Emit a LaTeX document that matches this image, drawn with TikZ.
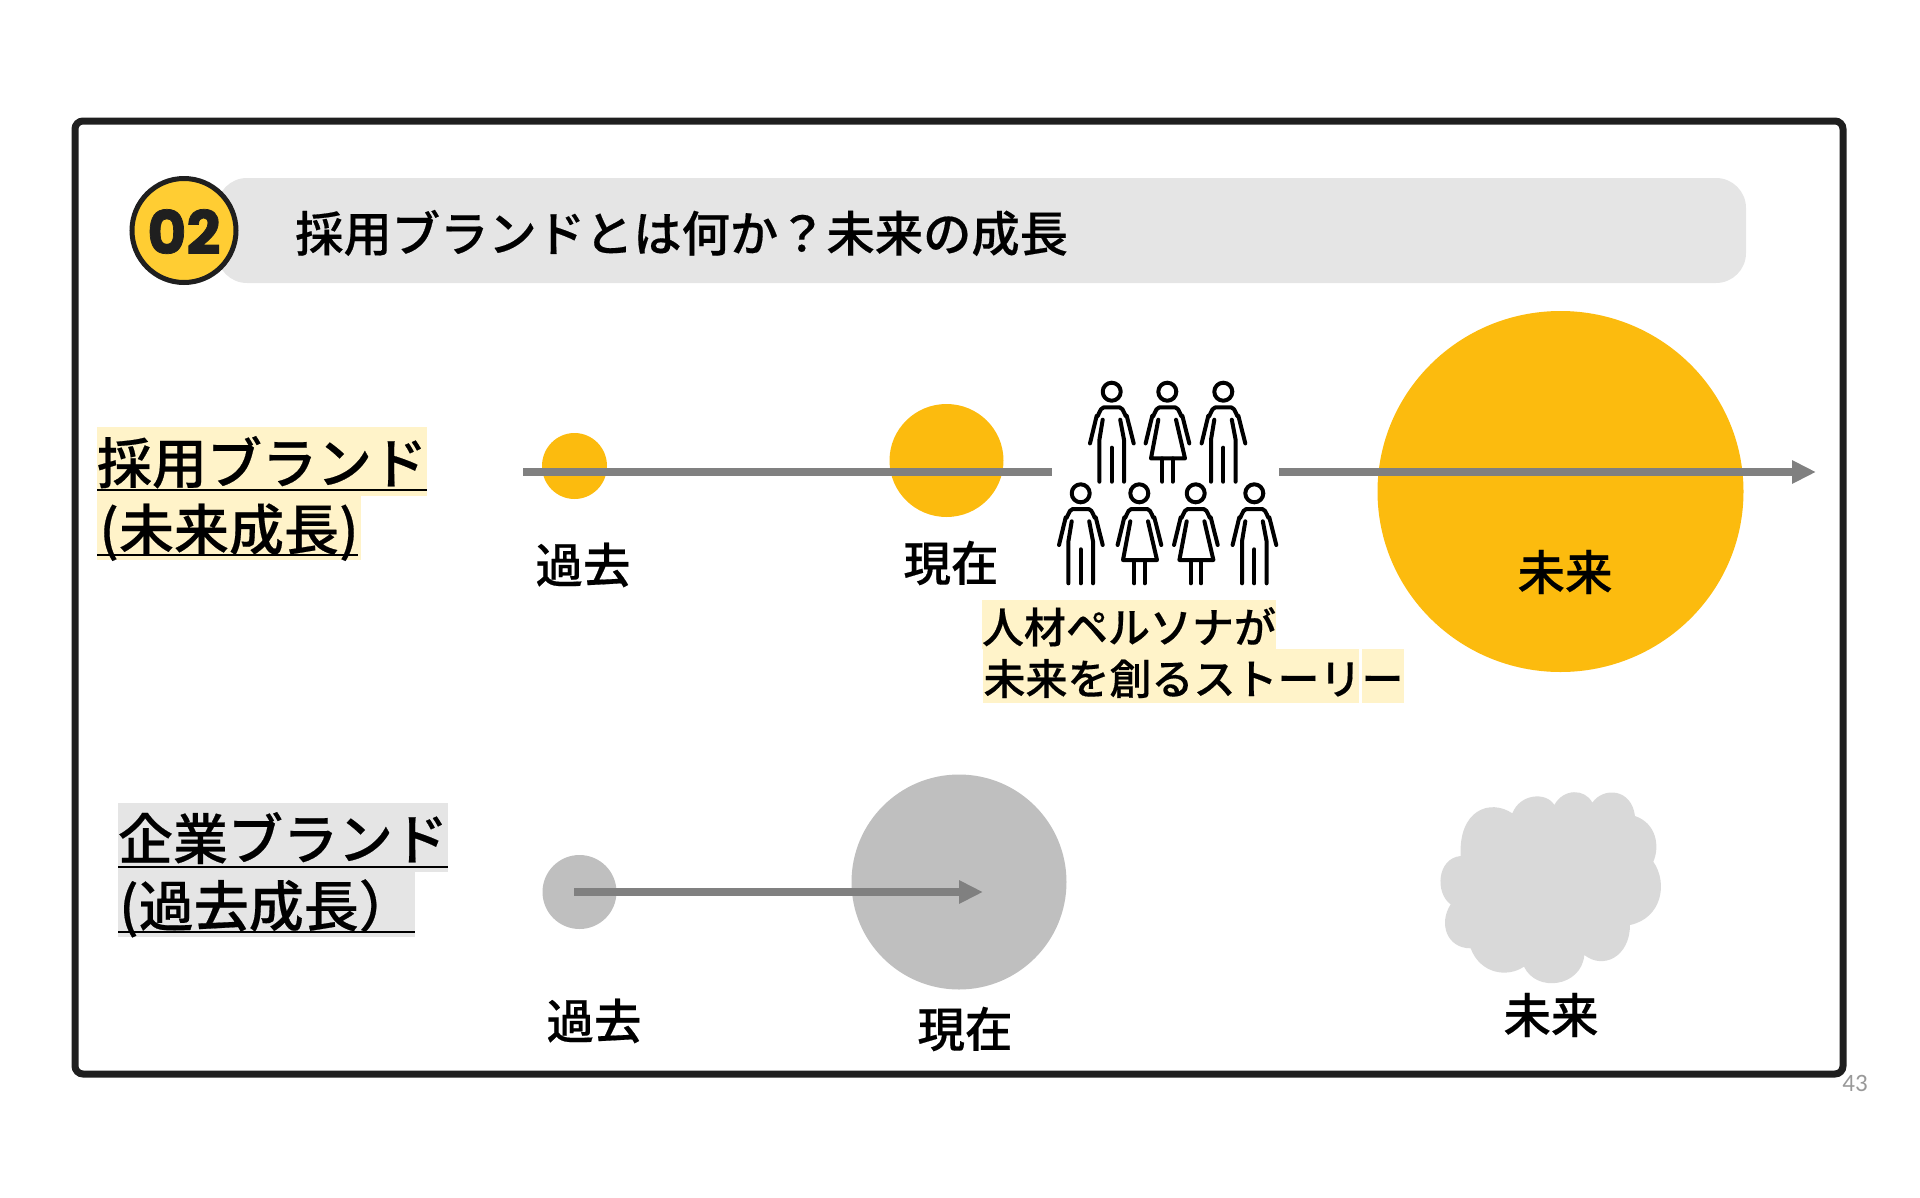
\documentclass[tikz,border=0pt]{standalone}
\usepackage{fontspec}
\setmainfont[FakeBold=0.35]{Noto Sans CJK JP Medium}
\newfontfamily\badgefont[BoldFeatures={FakeBold=1.2}]{Poppins}
\newfontfamily\pagefont{Carlito}
\usetikzlibrary{arrows.meta,positioning,shapes.geometric}
\definecolor{amber}{HTML}{FCBB0E}
\definecolor{badge}{HTML}{FFCD33}
\definecolor{pale}{HTML}{FFF3C9}
\tikzset{
  frame/.style={draw=black!88,line width=7pt,rounded corners=8pt},
  titlebar/.style={fill=black!10,rounded corners=30pt},
  badge-o/.style={draw=black!88,fill=badge,circle,line width=5pt,minimum size=104pt,inner sep=0pt,text height=47pt,text depth=0pt,font=\badgefont\bfseries\fontsize{60}{60}\selectfont,text=black!88},
  title-t/.style={inner sep=0pt,anchor=west,font=\fontsize{48.3}{56}\selectfont},
  band-y/.style={fill=pale,inner sep=0pt,text height=44pt,text depth=0pt,font=\fontsize{55}{64}\selectfont},
  band-g/.style={fill=black!10,inner sep=0pt,text height=44pt,text depth=0pt,font=\fontsize{55}{64}\selectfont},
  story/.style={fill=pale,inner sep=0pt,text height=37pt,text depth=0pt,font=\fontsize{42}{50}\selectfont},
  era/.style={inner sep=0pt,font=\fontsize{47.5}{56}\selectfont},
  dot-y/.style={fill=amber,ellipse,inner sep=0pt},
  dot-g/.style={fill=black!25,ellipse,inner sep=0pt},
  flow/.style={draw=black!50,line width=8pt},
  flowhead/.style={flow,-{Triangle[length=24pt,width=22pt]}},
  uline/.style={draw=black,line width=2pt},
  limb/.style={draw=black,line width=4pt,line cap=round,line join=round},
  man/.pic={
    \draw[limb] (0,0) circle (9);
    \draw[limb] (-21.7,51.7) -- (-15,24) to[out=-75,in=180] (-8,15.7) -- (8,15.7) to[out=0,in=-105] (15,24) -- (22,51.7);
    \draw[limb] (-9,28) -- (-12.3,48) -- (-12.3,90);
    \draw[limb] (8.5,28) -- (12.3,48) -- (12.3,90);
    \draw[limb] (0,56) -- (0,90);
  },
  woman/.pic={
    \draw[limb] (0,0) circle (9);
    \draw[limb] (-21.7,51.7) -- (-15,24) to[out=-75,in=180] (-8,15.7) -- (8,15.7) to[out=0,in=-105] (15,24) -- (22,51.7);
    \draw[limb] (-9,28) -- (-16.3,66.7) -- (17.7,66.7) -- (8.7,28);
    \draw[limb] (-5,66.7) -- (-5,90);
    \draw[limb] (5.3,66.7) -- (5.3,90);
  },
}
\begin{document}
\begin{tikzpicture}[x=1pt,y=-1pt]
  \useasboundingbox (0,0) rectangle (1920,1197);

  % heading
  \draw[frame] (75,121) rectangle (1843,1074);
  \fill[titlebar] (217,178) rectangle (1746,283);
  \node[badge-o] (num) at (184,230.5) {02};
  \node[title-t] (title) at (295,233) {採用ブランドとは何か？未来の成長};
  \node[text=black!40,inner sep=0pt,font=\pagefont\fontsize{25}{25}\selectfont] (page) at (1855,1083) {43};

  % upper row: amber circles
  \node[dot-y,minimum width=65pt,minimum height=66pt] (now-a) at (574.5,466) {};
  \node[dot-y,minimum width=114pt,minimum height=113pt] (now-b) at (946.5,460.5) {};
  \node[dot-y,minimum width=366pt,minimum height=361pt] (now-c) at (1560.5,491.5) {};
  \coordinate (line-a) at (523,472);
  \coordinate (line-b) at (1052,472);
  \coordinate (line-c) at (1279,472);
  \coordinate (line-d) at (1816,472);
  \draw[flow] (line-a) -- (line-b);
  \draw[flowhead] (line-c) -- (line-d);
  \node[era] (past-a) at (583,565) {過去};
  \node[era] (pres-a) at (951,563) {現在};
  \node[era] (futr-a) at (1565,572) {未来};

  % people
  \pic at (1111.7,391.7) {man};
  \pic at (1167.3,391.7) {woman};
  \pic at (1223.3,391.7) {man};
  \pic at (1080.7,493.3) {man};
  \pic at (1139.3,493.3) {woman};
  \pic at (1195.7,493.3) {woman};
  \pic at (1254.3,493.3) {man};

  \node[story,minimum width=292pt,minimum height=49pt] (persona) at (1129,624.5) {人材ペルソナが};
  \node[story,minimum width=421pt,minimum height=54pt] (story-b) at (1193.5,676) {未来を創るストーリー};
  \draw[white,line width=3pt] (1360.5,649) -- (1360.5,703);

  \node[band-y,minimum width=330pt,minimum height=69pt] (hire-a) at (262,461.5) {採用ブランド};
  \node[band-y,minimum width=264pt,minimum height=64pt] (hire-b) at (229,528) {(未来成長)};
  \draw[uline] (97,490) -- (427,490);
  \draw[uline] (97,555) -- (358,555);

  % lower row: grey circles
  \node[dot-g,minimum size=74pt] (old-a) at (579.5,892) {};
  \node[dot-g,minimum size=215pt] (old-b) at (959,882) {};
  \coordinate (arr-a) at (574,892);
  \coordinate (arr-b) at (983,892);
  \draw[flowhead] (arr-a) -- (arr-b);
  \node[era] (past-b) at (594,1021) {過去};
  \node[era] (pres-b) at (965,1029) {現在};
  \node[era] (futr-b) at (1551,1015) {未来};

  \begin{scope}[shift={(1400,770)},x=0.3333pt,y=-0.3333pt]
    \fill[black!15] (182,258) .. controls (175,120) and (270,85) .. (337,130)
      .. controls (360,70) and (440,65) .. (463,105)
      .. controls (490,55) and (555,55) .. (577,98)
      .. controls (610,50) and (695,55) .. (705,138)
      .. controls (770,160) and (780,230) .. (760,275)
      .. controls (805,340) and (785,445) .. (690,465)
      .. controls (690,560) and (610,600) .. (553,555)
      .. controls (545,650) and (410,670) .. (372,590)
      .. controls (320,625) and (240,610) .. (212,535)
      .. controls (140,535) and (115,460) .. (152,403)
      .. controls (105,370) and (110,265) .. (182,258) -- cycle;
  \end{scope}

  \node[band-g,minimum width=330pt,minimum height=69pt] (corp-a) at (283,837.5) {企業ブランド};
  \node[band-g,minimum width=297pt,minimum height=65pt] (corp-b) at (266.5,904.5) {(過去成長）};
  \draw[uline] (118,867) -- (448,867);
  \draw[uline] (118,932) -- (415,932);
\end{tikzpicture}
\end{document}
